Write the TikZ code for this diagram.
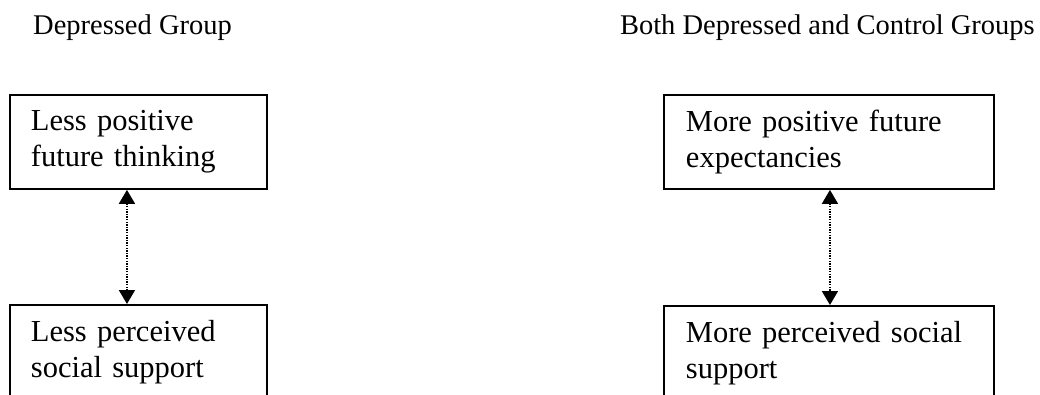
\documentclass[tikz,border=0pt]{standalone}
\usepackage{fontspec}
\setmainfont{Liberation Serif}
\usetikzlibrary{arrows.meta}
\begin{document}
\begin{tikzpicture}[x=1pt,y=1pt,
  title/.style={font=\fontsize{28.5}{34}\selectfont, inner sep=0pt},
  box/.style={draw, line width=1.9pt, font=\fontsize{30.5}{36}\selectfont,
    align=left, minimum height=94pt, inner ysep=0pt, anchor=north west},
  dotarr/.style={line width=1.8pt, dash pattern=on 1.4pt off 1.2pt,
    {Triangle[width=16pt,length=14pt]}-{Triangle[width=16pt,length=14pt]}}
]
\useasboundingbox (0,0) rectangle (1040,394);
\clip (0,0) rectangle (1040,394);
\fill[white] (0,0) rectangle (1040,394);
% titles
\node[title, anchor=base west] (t1) at (33,359) {Depressed Group};
\node[title, anchor=base east] (t2) at (1035,359) {Both Depressed and Control Groups};
% left boxes
\node[box, minimum width=257pt, text width=215pt, inner xsep=20pt] (a) at (9,300) {Less positive\\future thinking};
\node[box, minimum width=257pt, text width=215pt, inner xsep=20pt] (b) at (9,90) {Less perceived\\social support};
% right boxes
\node[box, minimum width=330pt, text width=286pt, inner xsep=21pt] (c) at (663,300) {More positive future\\expectancies};
\node[box, minimum width=330pt, text width=286pt, inner xsep=21pt] (d) at (663,89) {More perceived social\\support};
% arrows
\draw[dotarr] ([xshift=-11.5pt]a.south) -- ([xshift=-11.5pt]b.north);
\draw[dotarr] ([xshift=1pt]c.south) -- ([xshift=1pt]d.north);
\end{tikzpicture}
\end{document}
